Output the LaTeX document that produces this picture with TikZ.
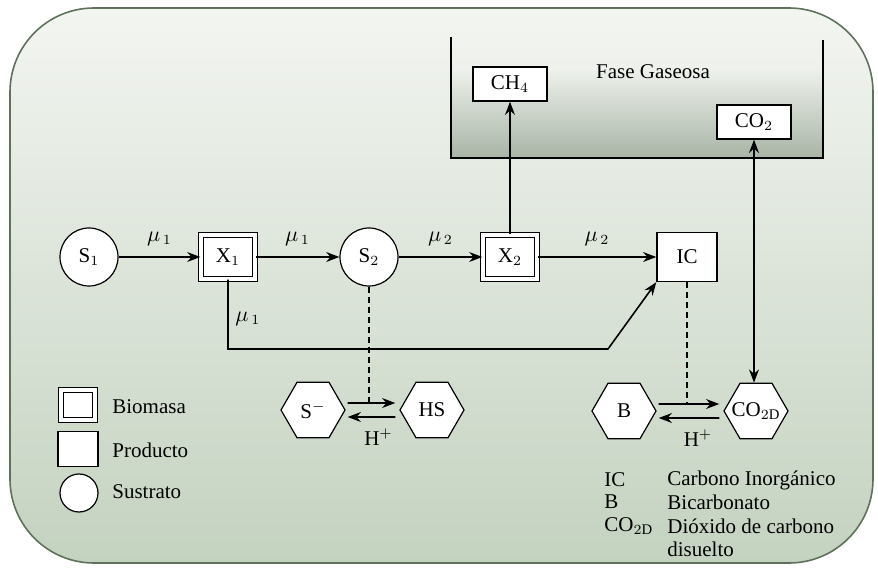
\documentclass[tikz,border=0pt]{standalone}
\usepackage{fontspec}
\setmainfont{Liberation Serif}
\usetikzlibrary{arrows.meta,calc,shapes.geometric,positioning}
\definecolor{bgtop}{RGB}{243,245,241}
\definecolor{bgbot}{RGB}{196,210,192}
\definecolor{gasbot}{RGB}{168,180,166}
\definecolor{marco}{RGB}{95,112,92}
\tikzset {
  >=Stealth,
  every node/.style={font=\fontsize{10.5}{12}\selectfont},
  sustrato/.style={circle,draw,line width=0.6pt,fill=white,minimum size=29pt,inner sep=0pt},
  biomasa/.style={draw,line width=0.6pt,double,double distance=1.6pt,fill=white,
    minimum width=27pt,minimum height=22pt,inner sep=0pt},
  producto/.style={draw,line width=0.7pt,fill=white,minimum width=30pt,minimum height=24.5pt,inner sep=0pt},
  gas/.style={draw,line width=0.7pt,fill=white,minimum width=37pt,minimum height=17pt,inner sep=0pt},
  ion/.style={regular polygon,regular polygon sides=6,draw,line width=0.6pt,
    fill=white,minimum size=32pt,inner sep=0pt},
  flujo/.style={->,line width=0.8pt},
  enlace/.style={densely dashed,line width=0.7pt},
  clave/.style={anchor=west,inner sep=0pt},
}

\begin{document}
\begin{tikzpicture}[x=0.5pt,y=-0.5pt]
  \useasboundingbox (0,0) rectangle (878,571);
  \shade[top color=bgtop,bottom color=bgbot,draw=marco,line width=0.8pt,rounded corners=42pt]
    (10,8) rectangle (873,563);
  % fase gaseosa
  \shade[top color=bgtop!88!bgbot,bottom color=gasbot] (451,70) rectangle (823,158);
  \draw[line width=0.8pt] (451,37) -- (451,158) -- (823,158) -- (823,40);
  \node (fase) at (653,72) {Fase Gaseosa};

  \node[sustrato] (S1) at (89,257) {S$_1$};
  \node[biomasa] (X1) at (228,257) {X$_1$};
  \node[sustrato] (S2) at (369,257) {S$_2$};
  \node[biomasa] (X2) at (510,257) {X$_2$};
  \node[producto] (IC) at (687,257) {IC};
  \node[gas] (CH4) at (510,84) {CH$_4$};
  \node[gas] (CO2) at (754,122) {CO$_2$};
  \node[ion] (Sm) at (313,410) {S$^-$};
  \node[ion] (HS) at (432,410) {HS};
  \node[ion] (B) at (624,411) {B};
  \node[ion,label={center:CO$_{2\mathrm{D}}$}] (CO2D) at (756,411) {};

  \draw[flujo] (S1) -- node[above=2pt]{$\mu_{\,1}$} (X1);
  \draw[flujo] (X1) -- node[above=2pt]{$\mu_{\,1}$} (S2);
  \draw[flujo] (S2) -- node[above=2pt]{$\mu_{\,2}$} (X2);
  \draw[flujo] (X2) -- node[above=2pt]{$\mu_{\,2}$} (IC);
  \draw[flujo] (X2) -- (CH4);
  \coordinate (codo) at (608,349);
  \draw[flujo] (X1.south) |- node[pos=0.28,right]{$\mu_{\,1}$} (codo) -- (IC.south west);
  \draw[<->,line width=0.8pt] (CO2.south) -- (CO2.south |- CO2D.north);

  % equilibrios
  \coordinate (Sup) at ([yshift=3.5pt]Sm.east);
  \coordinate (Bup) at ([yshift=3.5pt]B.east);
  \draw[flujo,shorten <=1pt,shorten >=2pt] (Sup) -- ([yshift=3.5pt]HS.west);
  \draw[flujo,shorten <=2pt,shorten >=1pt] ([yshift=-3.5pt]HS.west) -- ([yshift=-3.5pt]Sm.east);
  \draw[flujo,shorten <=1pt,shorten >=2pt] (Bup) -- ([yshift=3.5pt]CO2D.west);
  \draw[flujo,shorten <=2pt,shorten >=1pt] ([yshift=-3.5pt]CO2D.west) -- ([yshift=-3.5pt]B.east);
  \node (Hs) at ($(Sm)!0.5!(HS)+(6,27)$) {H$^+$};
  \node (Hb) at ($(B)!0.5!(CO2D)+(8,27)$) {H$^+$};
  \draw[enlace] (S2.south) -- (S2.south |- Sup);
  \draw[enlace] (IC.south) -- (IC.south |- Bup);

  % leyenda
  \node[biomasa,minimum width=17pt,minimum height=15pt] (legX) at (78,405) {};
  \node[clave] at (112,407) {Biomasa};
  \node[producto,minimum width=20pt,minimum height=17.5pt] (legP) at (78,449) {};
  \node[clave] at (112,450) {Producto};
  \node[sustrato,minimum size=19pt] (legS) at (79,493) {};
  \node[clave] at (112,492) {Sustrato};

  \node[clave] (kIC) at (604,480) {IC};
  \node[clave] at (667,480) {Carbono Inorgánico};
  \node[clave] (kB) at (604,502) {B};
  \node[clave] at (667,502) {Bicarbonato};
  \node[clave] (kCO) at (604,526) {CO$_{2\mathrm{D}}$};
  \node[clave] at (667,526) {Dióxido de carbono};
  \node[clave] at (667,549) {disuelto};
\end{tikzpicture}
\end{document}
